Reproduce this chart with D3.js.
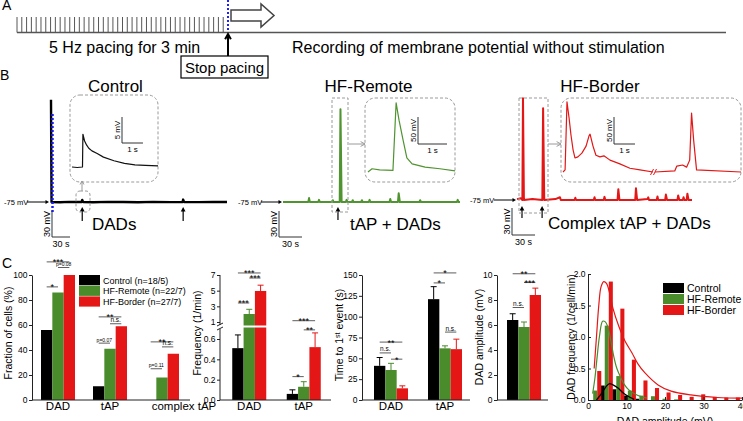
<!DOCTYPE html>
<html><head><meta charset="utf-8">
<script src="https://cdn.jsdelivr.net/npm/d3@7"></script>
<style>body{margin:0;background:#fff}svg{display:block}</style>
</head><body>
<script>
// ================= DATA =================
const conditions = ["Control", "HF-Remote", "HF-Border"];
const pacingMinutes = 3;
const pacingStimuliShown = 44;

// Panel B traces: [time (s), membrane potential (mV)]
const controlTrace = [[0,43],[0.9,-75],[15,-75.3],[30,-74.8],[45,-75],[51,-75],[52,-72.6],[53.5,-75],[70,-75.3],[95,-74.8],[120,-75],[145,-75.3],[170,-74.9],[200,-75.1],[219,-75],[220,-72.2],[221.5,-75],[245,-75.2],[270,-74.8],[293,-75]];
const controlInset = [[0,-75],[0.25,-75.1],[0.5,-75],[0.52,-68.7],[0.6,-70],[0.7,-70.8],[0.8,-71.4],[0.95,-71.9],[1.2,-72.4],[1.5,-73.1],[2.0,-73.8],[2.5,-74.3],[3.0,-74.6],[3.5,-74.7],[4.1,-74.8]];
const remoteTrace = [[0,-75],[33,-75],[34,-70.5],[35,-75],[46,-75],[47,-72.5],[48,-75],[64,-75],[65,-73],[66,-75],[74,-75],[75,32],[76.5,-75],[82,-75],[83,-72.5],[84,-75],[90,-75],[91,-73],[92,-75],[102,-75],[103,-73],[104,-75],[112,-75],[113,-72.5],[114,-75],[139,-75],[140,-71.5],[141,-75],[150,-75],[151,-65],[152.5,-75],[178,-75],[179,-73],[180,-75],[227,-75],[228,-72.5],[229,-75],[231,-75]];
const remoteInset = [[0,-75],[0.14,-69],[0.4,-71],[0.86,-72],[0.97,53],[1.07,21],[1.21,-16],[1.34,-49],[1.52,-60],[1.97,-66],[2.48,-69],[3.0,-73]];
const borderTrace = [[0,-74],[5,-73],[7,-75],[7.8,38],[9,-75],[20,-74],[33,-75],[34,27],[35.5,-75],[50,-74],[56,-72],[57,-75],[75,-75],[76,-72.5],[77,-75],[100,-75],[101,-72],[102,-75],[113,-75],[114,-71.5],[115,-75],[131,-75],[132,-63],[133.5,-75],[154,-75],[155,-62],[156.5,-75],[170,-74],[171,-72],[172,-75],[182,-75],[183,-71],[184,-75],[193,-75],[194,-69],[195.5,-75],[209,-75],[210,-70],[211.5,-75],[216,-75],[217,-72],[218,-75],[221,-75],[222,-68],[223.5,-75],[228,-75]];
const borderInsetA = [[0,-75],[0.1,-71],[0.19,55],[0.29,25],[0.38,-6.5],[0.48,-34],[0.57,-49],[0.71,-47],[0.9,-40],[1.1,-27],[1.24,-8],[1.29,-5],[1.43,-27],[1.57,-44],[1.76,-47],[1.95,-45],[2.24,-53],[2.71,-60],[3.19,-68],[3.67,-71],[4.29,-75]];
const borderInsetB = [[0,-75],[0.95,-73],[1.05,-64],[1.33,-62],[1.52,-66],[1.67,-53],[1.76,34],[1.86,-16],[2.0,-71],[4.14,-75]];

// Panel C: fraction of cells (%)
const fractionCategories = ["DAD", "tAP", "complex tAP"];
const fractionControl = [56, 11, 0];
const fractionRemote  = [86, 41, 18];
const fractionBorder  = [100, 59, 37];
const fractionTicks = [0, 20, 40, 60, 80, 100];
const fractionLegend = ["Control (n=18/5)", "HF-Remote (n=22/7)", "HF-Border (n=27/7)"];
const fractionSig = [
  {cat:0,a:0,b:2,level:110.5,label:"***"},{cat:0,a:1,b:2,level:106,label:"p=0.08"},{cat:0,a:0,b:1,level:90.5,label:"*"},
  {cat:1,a:0,b:2,level:66.5,label:"**"},{cat:1,a:1,b:2,level:61,label:"n.s."},{cat:1,a:0,b:1,level:45.5,label:"p=0.07"},
  {cat:2,a:0,b:2,level:46.5,label:"**"},{cat:2,a:1,b:2,level:42.5,label:"n.s."},{cat:2,a:0,b:1,level:25,label:"p=0.11"}];

// Frequency (1/min), broken axis
const freqCategories = ["DAD", "tAP"];
const freqControl = [0.51, 0.06], freqControlErr = [0.13, 0.04];
const freqRemote  = [2.02, 0.13], freqRemoteErr  = [0.6, 0.05];
const freqBorder  = [4.96, 0.52], freqBorderErr  = [0.74, 0.14];
const freqTicksLow = [0.0, 0.2, 0.4, 0.6];
const freqTicksHigh = [1, 3, 5, 7];
const freqSig = [
  {cat:0,a:0,b:2,level:7.26,label:"***"},{cat:0,a:1,b:2,level:6.62,label:"***"},{cat:0,a:0,b:1,level:3.43,label:"***"},
  {cat:1,a:0,b:2,level:0.78,label:"***"},{cat:1,a:1,b:2,level:0.69,label:"**"},{cat:1,a:0,b:1,level:0.23,label:"*"}];

// Time to 1st event (s)
const timeCategories = ["DAD", "tAP"];
const timeControl = [41, 121], timeControlErr = [10, 15];
const timeRemote  = [36, 62],  timeRemoteErr  = [8, 3];
const timeBorder  = [14, 61],  timeBorderErr  = [3, 12];
const timeTicks = [0, 25, 50, 75, 100, 125, 150];
const timeSig = [
  {cat:0,a:0,b:2,level:69.5,label:"**"},{cat:0,a:0,b:1,level:56.5,label:"n.s."},{cat:0,a:1,b:2,level:49,label:"*"},
  {cat:1,a:0,b:2,level:152.5,label:"*"},{cat:1,a:0,b:1,level:140.5,label:"*"},{cat:1,a:1,b:2,level:81.5,label:"n.s."}];

// DAD amplitude (mV)
const ampCategories = [""];
const ampControl = [6.4], ampControlErr = [0.5];
const ampRemote  = [5.84], ampRemoteErr  = [0.4];
const ampBorder  = [8.4], ampBorderErr  = [0.55];
const ampTicks = [0, 2, 4, 6, 8, 10];
const ampSig = [{cat:0,a:0,b:2,level:10.1,label:"**"},{cat:0,a:1,b:2,level:9.4,label:"***"},{cat:0,a:0,b:1,level:7.4,label:"n.s."}];

// DAD amplitude histogram (1/cell/min), 3-mV bins
const histBinStart = [0, 3, 6, 9, 12, 15, 18, 21, 24, 27, 30, 33, 36];
const histControl = [0, 0.23, 0.17, 0.07, 0.02, 0, 0, 0, 0, 0, 0, 0, 0];
const histRemote  = [0.15, 1.18, 0.38, 0.15, 0.07, 0.06, 0.02, 0.01, 0, 0, 0, 0, 0];
const histBorder  = [0.46, 1.88, 1.45, 0.64, 0.31, 0.19, 0.12, 0.08, 0.05, 0.09, 0.05, 0.04, 0.04];
const fitControl = [[2.2,0],[3,0.06],[3.9,0.14],[4.8,0.22],[5.6,0.26],[6.5,0.24],[7.8,0.19],[9,0.12],[9.9,0.08],[11,0.04],[12,0.01]];
const fitRemote  = [[1.2,0.1],[1.8,0.35],[2.3,0.64],[3,1.02],[3.8,1.25],[4.5,1.24],[5.2,1.15],[6,0.92],[6.7,0.69],[7.5,0.5],[8.4,0.37],[9.5,0.24],[10.6,0.16],[12.7,0.08],[15.3,0.03]];
const fitBorder  = [[1.6,0.5],[2.2,1.0],[2.8,1.5],[3.4,1.8],[4.1,1.88],[4.8,1.85],[5.6,1.7],[6.5,1.45],[8,1.17],[9.5,0.95],[11.4,0.75],[13,0.57],[14.8,0.43],[18.2,0.24],[21.6,0.14],[26.7,0.08],[33.6,0.04],[40,0.03]];
const histXTicks = [0, 10, 20, 30, 40];
const histYTicks = [0, 0.5, 1.0, 1.5, 2.0];

// ================= STYLE =================
const F = '"Liberation Sans", Arial, Helvetica, sans-serif';
const C_BLACK = "#000", C_GREEN = "#4a8b2c", C_RED = "#e41616";
const T_GREEN = "#4f9430", T_RED = "#e41616";
const colors = [C_BLACK, C_GREEN, C_RED];
const GRAY = "#9a9a9a";

const svg = d3.select("body").append("svg").attr("width", 743).attr("height", 421);

function txt(g, x, y, s, size, o = {}) {
  const t = g.append("text").attr("x", x).attr("y", y).text(s)
    .style("font-family", F).style("font-size", size + "px").attr("fill", o.fill || "#000");
  if (o.anchor) t.attr("text-anchor", o.anchor);
  if (o.rot) t.attr("transform", `rotate(-90,${x},${y})`);
  return t;
}
function arrow(g, x1, y1, x2, y2, o = {}) {
  const color = o.color || "#000", w = o.w || 1, size = o.size || 4, head = o.head || "filled";
  const a = Math.atan2(y2 - y1, x2 - x1);
  const h1 = [x2 - size * Math.cos(a - 0.5), y2 - size * Math.sin(a - 0.5)];
  const h2 = [x2 - size * Math.cos(a + 0.5), y2 - size * Math.sin(a + 0.5)];
  if (head === "filled") {
    g.append("line").attr("x1", x1).attr("y1", y1).attr("x2", x2 - size * 0.7 * Math.cos(a)).attr("y2", y2 - size * 0.7 * Math.sin(a)).attr("stroke", color).attr("stroke-width", w);
    g.append("path").attr("d", `M${x2},${y2}L${h1[0]},${h1[1]}L${h2[0]},${h2[1]}Z`).attr("fill", color);
  } else {
    g.append("line").attr("x1", x1).attr("y1", y1).attr("x2", x2).attr("y2", y2).attr("stroke", color).attr("stroke-width", w);
    g.append("path").attr("d", `M${h1[0]},${h1[1]}L${x2},${y2}L${h2[0]},${h2[1]}`).attr("fill", "none").attr("stroke", color).attr("stroke-width", w);
  }
}
function trace(g, data, x, y, color, w) {
  g.append("path").datum(data).attr("d", d3.line().x(d => x(d[0])).y(d => y(d[1])))
    .attr("fill", "none").attr("stroke", color).attr("stroke-width", w).attr("stroke-linejoin", "round");
}
function scaleBar(g, x0, y0, lx, ly, labY, labX, fs) {
  g.append("path").attr("d", `M${x0},${y0 - ly}V${y0}H${x0 + lx}`).attr("fill", "none").attr("stroke", "#333").attr("stroke-width", 1);
  txt(g, x0 - 2, y0 - ly / 2, labY, fs, {anchor: "middle", rot: true});
  txt(g, x0 + lx / 2, y0 + fs + 0.5, labX, fs, {anchor: "middle"});
}
function dashedBox(g, x0, y0, x1, y1, r) {
  g.append("rect").attr("x", x0).attr("y", y0).attr("width", x1 - x0).attr("height", y1 - y0).attr("rx", r).attr("ry", r)
    .attr("fill", "none").attr("stroke", GRAY).attr("stroke-width", 1).attr("stroke-dasharray", "3,2");
}

// ================= PANEL A =================
const gA = svg.append("g");
txt(gA, 2, 10, "A", 14);
const xPace = d3.scaleLinear().domain([0, pacingMinutes]).range([17, 228]);
const stim = d3.range(pacingStimuliShown).map(i => i * pacingMinutes / pacingStimuliShown);
gA.selectAll("line.stim").data(stim).join("line").attr("class", "stim")
  .attr("x1", d => xPace(d)).attr("x2", d => xPace(d)).attr("y1", 17).attr("y2", 32.5).attr("stroke", "#444").attr("stroke-width", 0.9);
gA.append("line").attr("x1", 17).attr("x2", 726).attr("y1", 32.5).attr("y2", 32.5).attr("stroke", "#555").attr("stroke-width", 1.3);
gA.append("line").attr("x1", xPace(pacingMinutes)).attr("x2", xPace(pacingMinutes)).attr("y1", 0).attr("y2", 32)
  .attr("stroke", "#2222ee").attr("stroke-width", 2).attr("stroke-dasharray", "2,2");
gA.append("path").attr("d", "M231,10H261V4L274,15.5L261,27V21H231Z").attr("fill", "#fff").attr("stroke", "#444").attr("stroke-width", 1.5);
arrow(gA, 228, 56, 228, 34, {w: 2, head: "open", size: 6});
gA.append("rect").attr("x", 181).attr("y", 56).attr("width", 87).attr("height", 22).attr("fill", "none").attr("stroke", "#000").attr("stroke-width", 1.2);
txt(gA, 224.5, 72.5, "Stop pacing", 15, {anchor: "middle"});
txt(gA, 49, 53, "5 Hz pacing for 3 min", 16);
txt(gA, 292, 53, "Recording of membrane potential without stimulation", 16);

// ================= PANEL B =================
const gB = svg.append("g");
txt(gB, 0, 80, "B", 14);
txt(gB, 115.5, 92, conditions[0], 17, {anchor: "middle"});
txt(gB, 368.5, 92, conditions[1], 17, {anchor: "middle"});
txt(gB, 600, 92, conditions[2], 17, {anchor: "middle"});

// Control
{
  const x = d3.scaleLinear().domain([0, 293]).range([51, 227]);
  const y = d3.scaleLinear().domain([-75, 45]).range([202, 98]);
  trace(gB, controlTrace, x, y, "#000", 2.4);
  gB.append("line").attr("x1", 52.5).attr("x2", 52.5).attr("y1", 114).attr("y2", 212).attr("stroke", "#1a1aff").attr("stroke-width", 2.5).attr("stroke-dasharray", "2,2");
  txt(gB, 4, 205, "-75 mV", 7.5);
  arrow(gB, 27, 202, 49, 202, {w: 1, size: 4});
  [52, 220].forEach(t => arrow(gB, x(t), 221, x(t), 207, {w: 1.2, size: 5}));
  dashedBox(gB, 76, 191, 90, 212, 4);
  arrow(gB, 82, 191, 82, 181, {color: GRAY, w: 1, head: "open", size: 4});
  dashedBox(gB, 70, 95, 158, 182, 10);
  const xi = d3.scaleLinear().domain([0, 4.1]).range([72, 158]);
  const yi = d3.scaleLinear().domain([-75, -65]).range([167, 115]);
  trace(gB, controlInset, xi, yi, "#111", 1.2);
  scaleBar(gB, 122, 143, xi(1) - xi(0), yi(-75) - yi(-70), "5 mV", "1 s", 8);
  scaleBar(gB, 52, 237, x(30) - x(0), y(-75) - y(-45), "30 mV", "30 s", 9);
  txt(gB, 92, 230, "DADs", 17);
}
// HF-Remote
{
  const x = d3.scaleLinear().domain([0, 231]).range([283, 460]);
  const y = d3.scaleLinear().domain([-75, 45]).range([202, 98]);
  trace(gB, remoteTrace, x, y, T_GREEN, 2);
  txt(gB, 238, 205, "-75 mV", 7.5);
  arrow(gB, 261, 202, 282, 202, {w: 1, size: 4});
  arrow(gB, x(75) - 2.5, 220, x(75) - 2.5, 207, {w: 1.2, size: 5});
  dashedBox(gB, 332, 98, 348, 212, 0);
  arrow(gB, 349, 144, 365, 144, {color: GRAY, w: 1, head: "open", size: 5});
  dashedBox(gB, 365, 98, 455, 182, 10);
  const xi = d3.scaleLinear().domain([0, 3]).range([368, 455]);
  const yi = d3.scaleLinear().domain([-75, 55]).range([172, 101.8]);
  trace(gB, remoteInset, xi, yi, T_GREEN, 1.2);
  scaleBar(gB, 418, 144, xi(1) - xi(0), yi(-75) - yi(-25), "50 mV", "1 s", 8);
  scaleBar(gB, 279, 237, x(30) - x(0), y(-75) - y(-45), "30 mV", "30 s", 9);
  txt(gB, 350, 230, "tAP + DADs", 17);
}
// HF-Border
{
  const x = d3.scaleLinear().domain([0, 228]).range([517, 692]);
  const y = d3.scaleLinear().domain([-75, 45]).range([200, 92]);
  trace(gB, borderTrace, x, y, T_RED, 2);
  txt(gB, 470, 203, "-75 mV", 7.5);
  arrow(gB, 494, 200, 516, 200, {w: 1, size: 4});
  [7.8, 34].forEach(t => arrow(gB, x(t) - 1, 218, x(t) - 1, 206, {w: 1.2, size: 5}));
  dashedBox(gB, 519, 98, 548, 213, 0);
  arrow(gB, 548, 144, 561, 144, {color: GRAY, w: 1, head: "open", size: 5});
  dashedBox(gB, 561, 98, 741, 182, 10);
  const yi = d3.scaleLinear().domain([-75, 55]).range([172, 101.8]);
  const xa = d3.scaleLinear().domain([0, 4.29]).range([563, 653]);
  const xb = d3.scaleLinear().domain([0, 4.14]).range([655, 741]);
  trace(gB, borderInsetA, xa, yi, T_RED, 1.2);
  trace(gB, borderInsetB, xb, yi, T_RED, 1.2);
  gB.append("path").attr("d", "M650.5,175L653.5,169M653.5,175L656.5,169").attr("stroke", T_RED).attr("stroke-width", 1).attr("fill", "none");
  scaleBar(gB, 614, 144, xa(1) - xa(0), yi(-75) - yi(-25), "50 mV", "1 s", 8);
  scaleBar(gB, 512, 235, x(30) - x(0), y(-75) - y(-45), "30 mV", "30 s", 9);
  txt(gB, 548, 229, "Complex tAP + DADs", 17);
}

// ================= PANEL C =================
const gC = svg.append("g");
txt(gC, 2, 268, "C", 14);

function yAxis(g, x0, y, ticks, fmt, inward) {
  const a = d3.axisLeft(y).tickValues(ticks).tickFormat(fmt);
  if (inward) a.tickSizeInner(-3).tickSizeOuter(0).tickPadding(2.5);
  else a.tickSizeInner(3).tickSizeOuter(0).tickPadding(1.5);
  const ax = g.append("g").attr("transform", `translate(${x0},0)`).call(a);
  ax.selectAll("text").style("font-family", F).style("font-size", "8.5px");
  ax.selectAll("path,line").attr("stroke", "#222");
  return ax;
}
function bars(g, cats, seriesVals, seriesErrs, xb, xs, yf, base) {
  seriesVals.forEach((vals, si) => {
    g.selectAll(null).data(vals.map((v, ci) => ({v, ci}))).join("rect")
      .attr("x", d => xb(cats[d.ci]) + xs(si)).attr("width", xs.bandwidth())
      .attr("y", d => yf(d.v)).attr("height", d => Math.max(0, base - yf(d.v))).attr("fill", colors[si]);
    if (seriesErrs) {
      vals.forEach((v, ci) => {
        if (v <= 0) return;
        const cx = xb(cats[ci]) + xs(si) + xs.bandwidth() / 2;
        const y1 = yf(v), y2 = yf(v + seriesErrs[si][ci]);
        g.append("path").attr("d", `M${cx},${y1}V${y2}M${cx - 3},${y2}H${cx + 3}`).attr("stroke", colors[si]).attr("stroke-width", 1).attr("fill", "none");
      });
    }
  });
}
function sigs(g, cats, list, xb, xs, yf) {
  list.forEach(s => {
    const xa = xb(cats[s.cat]) + xs(s.a) + xs.bandwidth() / 2;
    const xbb = xb(cats[s.cat]) + xs(s.b) + xs.bandwidth() / 2;
    const yy = yf(s.level);
    g.append("line").attr("x1", xa).attr("x2", xbb).attr("y1", yy).attr("y2", yy).attr("stroke", "#333").attr("stroke-width", 0.8);
    const star = s.label.startsWith("*");
    const fs = star ? 9 : (s.label.startsWith("p") ? 5 : 6.5);
    txt(g, (xa + xbb) / 2, star ? yy + 3.5 : yy - 1.5, s.label, fs, {anchor: "middle"});
  });
}
function xLine(g, x0, x1, y0) {
  g.append("line").attr("x1", x0).attr("x2", x1).attr("y1", y0).attr("y2", y0).attr("stroke", "#222").attr("stroke-width", 1);
}
function catLabels(g, cats, xb, shifts) {
  cats.forEach((c, i) => txt(g, xb(c) + xb.bandwidth() / 2 + (shifts ? shifts[i] : 0), 410, c, 11.5, {anchor: "middle"}));
}

// Fraction
{
  const y = d3.scaleLinear().domain([0, 100]).range([400, 275]);
  const xb = d3.scaleBand().domain(fractionCategories).range([32, 188]);
  const xs = d3.scaleBand().domain([0, 1, 2]).range([9, 43]);
  bars(gC, fractionCategories, [fractionControl, fractionRemote, fractionBorder], null, xb, xs, y, 400);
  yAxis(gC, 32, y, fractionTicks, d3.format("d"));
  xLine(gC, 32, 190, 400);
  catLabels(gC, fractionCategories, xb, [0, 0, 22]);
  sigs(gC, fractionCategories, fractionSig, xb, xs, y);
  txt(gC, 12, 333, "Fraction of cells (%)", 10.5, {anchor: "middle", rot: true});
  fractionLegend.forEach((l, i) => {
    gC.append("rect").attr("x", 79).attr("y", 275 + i * 10.7).attr("width", 21).attr("height", 10.2).attr("fill", colors[i]);
    txt(gC, 103, 283.5 + i * 10.7, l, 9);
  });
}
// Frequency (broken axis)
{
  const yLow = d3.scaleLinear().domain([0, 0.6]).range([400, 339]);
  const yHigh = d3.scaleLinear().domain([1, 7]).range([322, 275]);
  const yf = v => v <= 0.8 ? yLow(v) : yHigh(v);
  const xb = d3.scaleBand().domain(freqCategories).range([222, 331]);
  const xs = d3.scaleBand().domain([0, 1, 2]).range([10.25, 44.25]);
  bars(gC, freqCategories, [freqControl, freqRemote, freqBorder], [freqControlErr, freqRemoteErr, freqBorderErr], xb, xs, yf, 400);
  gC.append("line").attr("x1", 240).attr("x2", 270).attr("y1", 326.5).attr("y2", 326.5).attr("stroke", "#fff").attr("stroke-width", 2);
  const a1 = yAxis(gC, 220, yLow, freqTicksLow, d3.format(".1f"));
  a1.select(".domain").remove();
  const a2 = yAxis(gC, 220, yHigh, freqTicksHigh, d3.format("d"));
  a2.select(".domain").remove();
  gC.append("path").attr("d", `M220,${yHigh(7)}V325M220,329V400`).attr("stroke", "#222").attr("fill", "none");
  gC.append("path").attr("d", "M217,326L223,323M217,330L223,327").attr("stroke", "#222").attr("stroke-width", 1).attr("fill", "none");
  xLine(gC, 220, 331, 400);
  catLabels(gC, freqCategories, xb);
  sigs(gC, freqCategories, freqSig, xb, xs, yf);
  txt(gC, 201, 333, "Frequency (1/min)", 10.5, {anchor: "middle", rot: true});
}
// Time to first event
{
  const y = d3.scaleLinear().domain([0, 150]).range([400, 275]);
  const xb = d3.scaleBand().domain(timeCategories).range([364, 472]);
  const xs = d3.scaleBand().domain([0, 1, 2]).range([10, 44]);
  bars(gC, timeCategories, [timeControl, timeRemote, timeBorder], [timeControlErr, timeRemoteErr, timeBorderErr], xb, xs, y, 400);
  yAxis(gC, 362, y, timeTicks, d3.format("d"));
  xLine(gC, 362, 470, 400);
  catLabels(gC, timeCategories, xb);
  sigs(gC, timeCategories, timeSig, xb, xs, y);
  const t = txt(gC, 343, 335, "Time to 1", 10.5, {anchor: "middle", rot: true});
  t.append("tspan").text("st").attr("baseline-shift", "super").style("font-size", "7px");
  t.append("tspan").text(" event (s)");
}
// DAD amplitude
{
  const y = d3.scaleLinear().domain([0, 10]).range([400, 275]);
  const xb = d3.scaleBand().domain(ampCategories).range([497, 551]);
  const xs = d3.scaleBand().domain([0, 1, 2]).range([10, 44]);
  bars(gC, ampCategories, [ampControl, ampRemote, ampBorder], [ampControlErr, ampRemoteErr, ampBorderErr], xb, xs, y, 400);
  yAxis(gC, 497, y, ampTicks, d3.format("d"));
  xLine(gC, 497, 548, 400);
  sigs(gC, ampCategories, ampSig, xb, xs, y);
  txt(gC, 483, 337, "DAD amplitude (mV)", 10.5, {anchor: "middle", rot: true});
}
// Histogram
{
  const x = d3.scaleLinear().domain([0, 40]).range([588, 742]);
  const y = d3.scaleLinear().domain([0, 2]).range([400, 274]);
  const sub = d3.scaleBand().domain([0, 1, 2]).range([0.3, 3.45]);
  [histControl, histRemote, histBorder].forEach((vals, si) => {
    gC.selectAll(null).data(vals.map((v, i) => ({v, s: histBinStart[i]}))).join("rect")
      .attr("x", d => x(d.s + sub(si))).attr("width", x(sub.bandwidth()) - x(0))
      .attr("y", d => y(d.v)).attr("height", d => 400 - y(d.v)).attr("fill", colors[si]);
  });
  const ln = d3.line().x(d => x(d[0])).y(d => y(d[1])).curve(d3.curveCatmullRom);
  [fitControl, fitRemote, fitBorder].forEach((f, si) => {
    gC.append("path").datum(f).attr("d", ln).attr("fill", "none").attr("stroke", colors[si]).attr("stroke-width", 1.2);
  });
  yAxis(gC, 588, y, histYTicks, d3.format(".1f"), true);
  const ax = gC.append("g").attr("transform", "translate(0,400)")
    .call(d3.axisBottom(x).tickValues(histXTicks).tickFormat(d3.format("d")).tickSizeInner(-3).tickSizeOuter(0).tickPadding(3));
  ax.selectAll("text").style("font-family", F).style("font-size", "8.5px");
  ax.selectAll("path,line").attr("stroke", "#222");
  txt(gC, 665, 424.5, "DAD amplitude (mV)", 10.5, {anchor: "middle"});
  txt(gC, 575, 337, "DAD frequency (1/cell/min)", 10.5, {anchor: "middle", rot: true});
  conditions.forEach((c, i) => {
    gC.append("rect").attr("x", 663).attr("y", 283 + i * 11).attr("width", 21).attr("height", 10).attr("fill", colors[i]);
    txt(gC, 687, 291.5 + i * 11, c, 10.5);
  });
}
</script>
</body></html>
